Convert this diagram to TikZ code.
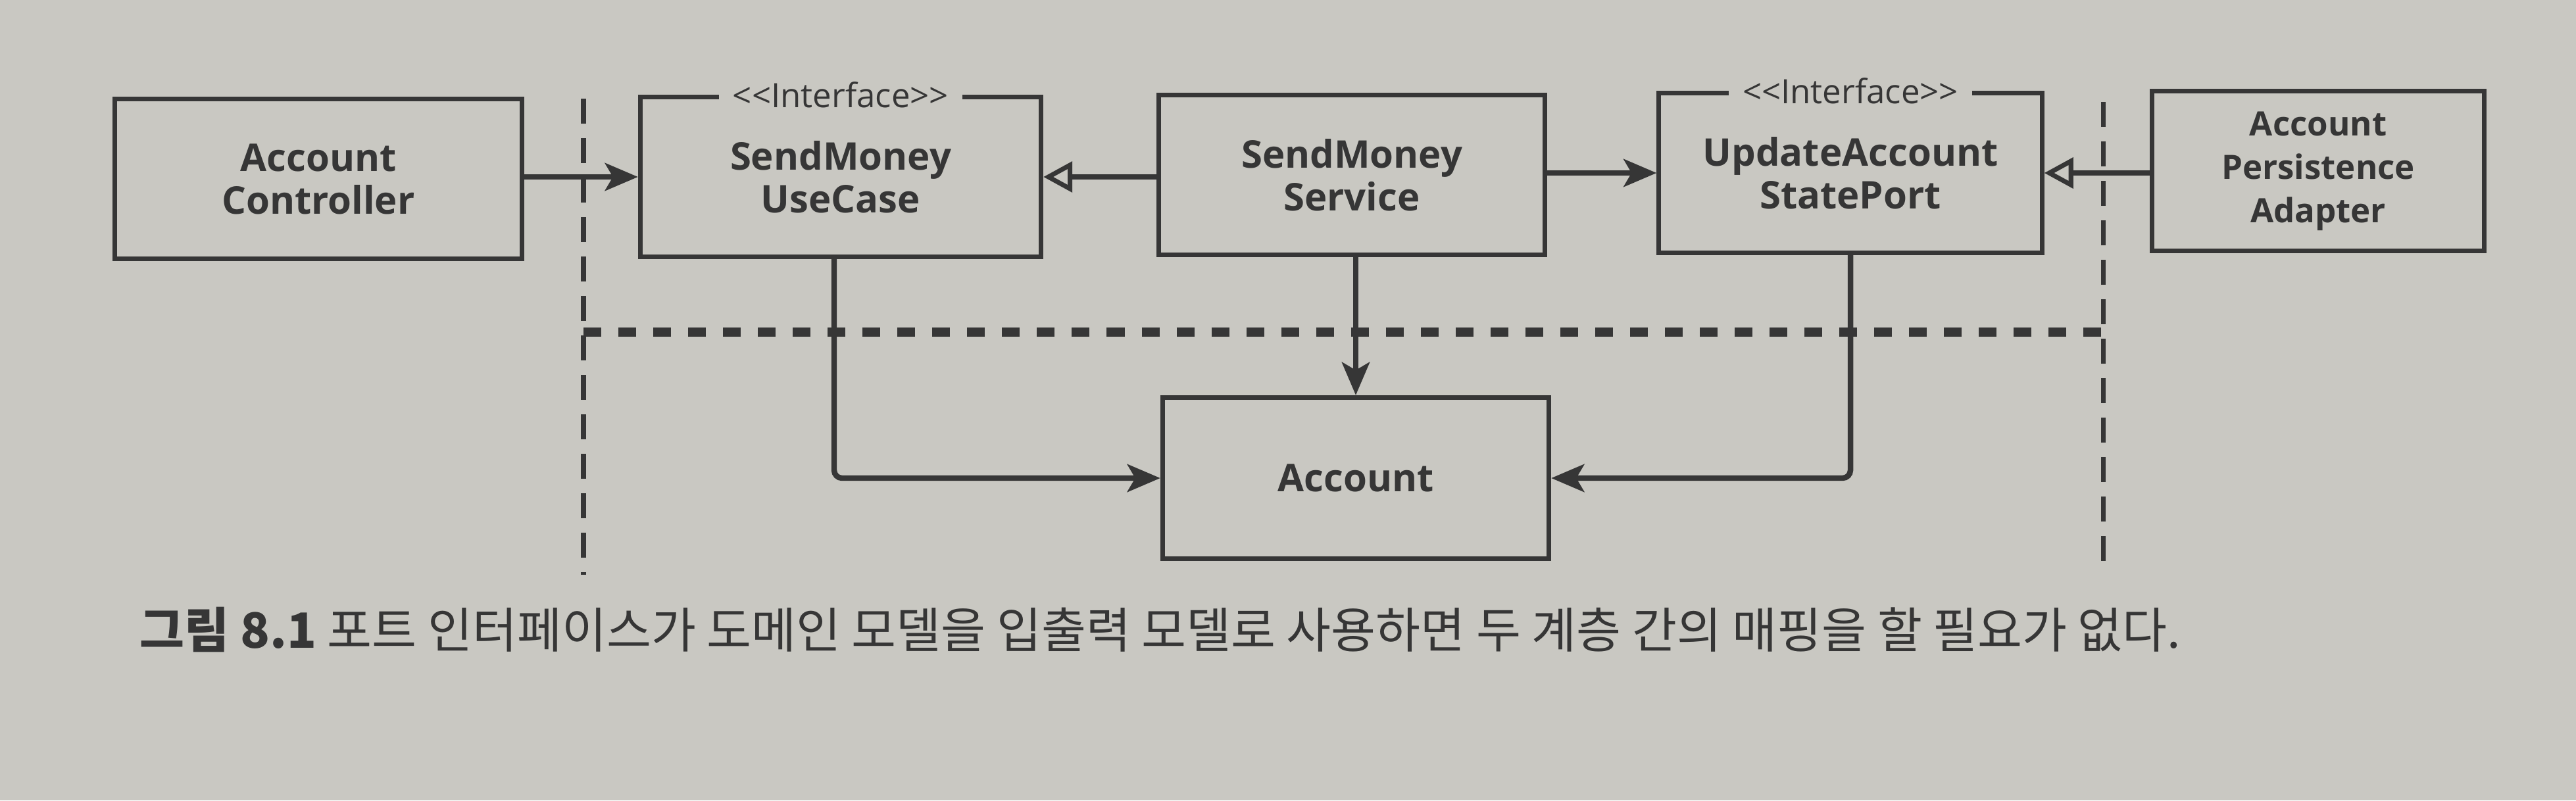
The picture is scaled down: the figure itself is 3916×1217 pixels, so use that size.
\documentclass[tikz,border=0pt]{standalone}
\usepackage{fontspec}
\setmainfont{Open Sans}
\newfontfamily\kr{Noto Sans CJK KR}
\usetikzlibrary{arrows.meta}
\definecolor{paper}{HTML}{C9C8C2}
\definecolor{ink}{HTML}{363636}
\begin{document}
\begin{tikzpicture}[x=0.01cm,y=-0.01cm,
  box/.style={draw=ink, line width=2pt, fill=paper, inner sep=0pt, align=center,
    font=\fontsize{16.5}{18.5}\selectfont\bfseries, text=ink, minimum height=2.42cm},
  stereo/.style={fill=paper, inner xsep=6pt, inner ysep=1pt, text=ink,
    font=\fontsize{14.5}{16}\selectfont},
  arr/.style={draw=ink, line width=2.4pt, -{Stealth[length=0.5cm, width=0.42cm, inset=0.12cm]}},
  hollow/.style={draw=ink, line width=2.4pt, -{Triangle[open, length=0.44cm, width=0.46cm, line width=2pt]}},
  bound/.style={draw=ink, line width=2pt, dash pattern=on 0.38cm off 0.22cm},
  layer/.style={draw=ink, line width=4pt, dash pattern=on 0.27cm off 0.26cm}
]
\fill[paper] (0,0) rectangle (3916,1217);
\useasboundingbox (0,0) rectangle (3916,1217);

% boundaries
\coordinate (lt) at (887,150);
\coordinate (lb) at (887,874);
\coordinate (rt) at (3197,155);
\coordinate (rb) at (3197,862);
\coordinate (hl) at (887,505);
\coordinate (hr) at (3197,505);
\draw[bound] (lt) -- (lb);
\draw[bound] (rt) -- (rb);
\draw[layer] (hl) -- (hr);

% boxes
\node[box, minimum width=6.19cm] (ctrl) at (484,272) {Account\\Controller};
\node[box, minimum width=6.09cm] (uc) at (1278,269) {SendMoney\\UseCase};
\node[box, minimum width=5.87cm] (svc) at (2055,266) {SendMoney\\Service};
\node[box, minimum width=5.82cm] (port) at (2813,263) {UpdateAccount\\StatePort};
\node[box, minimum width=5.04cm, font=\fontsize{14.5}{18.8}\selectfont\bfseries] (adp) at (3524,260) {Account\\Persistence\\Adapter};
\node[box, minimum width=5.87cm, minimum height=2.45cm] (acc) at (2061,727) {Account};

\node[stereo] (ucst) at (uc.north) {{<}{<}Interface{>}{>}};
\node[stereo] (portst) at (port.north) {{<}{<}Interface{>}{>}};

% connectors
\draw[arr] (ctrl.east |- uc.west) -- (uc.west);
\draw[hollow] (svc.west |- uc.east) -- (uc.east);
\draw[arr] (svc.east |- port.west) -- (port.west);
\draw[hollow] (adp.west |- port.east) -- (port.east);
\draw[arr] (svc.south -| acc.north) -- (acc.north);
\draw[arr, rounded corners=0.12cm] ([xshift=-0.1cm]uc.south) |- (acc.west);
\draw[arr, rounded corners=0.12cm] (port.south) |- (acc.east);

% caption
\node[anchor=west, inner sep=0pt, text=ink, font=\kr\fontsize{21}{24}\selectfont] (cap) at (212,957)
  {{\bfseries 그림 8.1} 포트 인터페이스가 도메인 모델을 입출력 모델로 사용하면 두 계층 간의 매핑을 할 필요가 없다.};
\end{tikzpicture}
\end{document}
